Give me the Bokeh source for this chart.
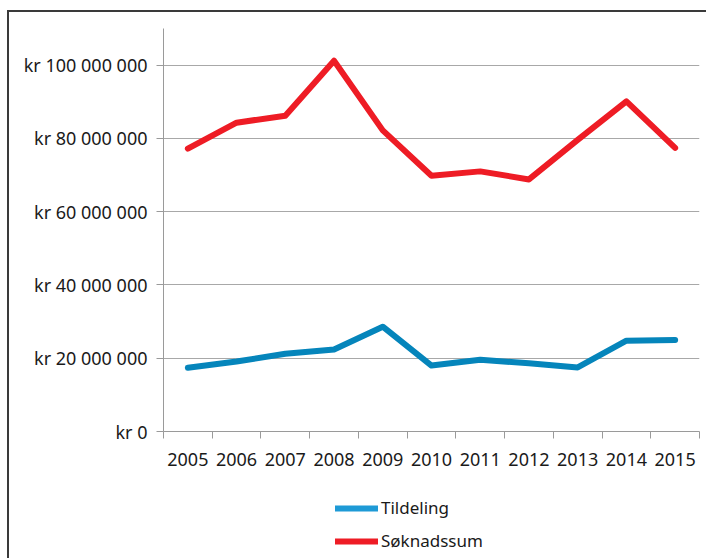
from bokeh.plotting import figure
from bokeh.models import (Range1d, FixedTicker, LinearAxis, Legend, LegendItem, Column)
from bokeh.embed import file_html
from bokeh.resources import INLINE

years = ["2005", "2006", "2007", "2008", "2009", "2010", "2011", "2012", "2013", "2014", "2015"]
tildeling = [17.4e6, 19.1e6, 21.2e6, 22.4e6, 28.6e6, 18.0e6, 19.6e6, 18.6e6, 17.5e6, 24.8e6, 25.0e6]
soknadssum = [77.2e6, 84.3e6, 86.2e6, 101.2e6, 82.2e6, 69.8e6, 71.0e6, 68.8e6, 79.6e6, 90.1e6, 77.4e6]
y_ticks = [0, 20e6, 40e6, 60e6, 80e6, 100e6]
y_tick_labels = ["kr 0", "kr 20 000 000", "kr 40 000 000", "kr 60 000 000", "kr 80 000 000", "kr 100 000 000"]
series_names = ["Tildeling", "Søknadssum"]
colors = ["#0585bb", "#ee1c25"]
legend_colors = ["#1e9ad6", "#ee1c25"]

FONT = "Noto Sans"
TXT = "#1a1a1a"
AX = "#9a9a9a"

n = len(years)
xc = [i + 0.5 for i in range(n)]

W = 697
H_MAIN = 474
H_LEG = 72

p = figure(width=W, height=H_MAIN, output_backend="svg", toolbar_location=None,
           x_range=Range1d(0, n), y_range=Range1d(0, 110e6),
           min_border_left=154, min_border_right=7, min_border_top=16, min_border_bottom=55,
           x_axis_location=None, y_axis_location=None)
p.outline_line_color = None
p.background_fill_color = "white"
p.border_fill_color = "white"

# y axis
yax = LinearAxis(ticker=FixedTicker(ticks=y_ticks))
yax.major_label_overrides = {t: l for t, l in zip(y_ticks, y_tick_labels)}
yax.axis_line_color = AX
yax.major_tick_line_color = AX
yax.major_tick_out = 7
yax.major_tick_in = 0
yax.minor_tick_line_color = None
yax.major_label_standoff = 9
yax.major_label_text_font = FONT
yax.major_label_text_font_size = "18px"
yax.major_label_text_color = TXT
p.add_layout(yax, "left")

# x axis: labels at category centres, small ticks at category boundaries
xax = LinearAxis(ticker=FixedTicker(ticks=xc, minor_ticks=list(range(n + 1))))
xax.major_label_overrides = {c: y for c, y in zip(xc, years)}
xax.axis_line_color = AX
xax.major_tick_line_color = None
xax.major_tick_out = 0
xax.major_tick_in = 0
xax.minor_tick_line_color = AX
xax.minor_tick_out = 7
xax.minor_tick_in = 0
xax.major_label_standoff = 14
xax.major_label_text_font = FONT
xax.major_label_text_font_size = "18px"
xax.major_label_text_color = TXT
p.add_layout(xax, "below")

p.xgrid.visible = False
p.ygrid.ticker = FixedTicker(ticks=y_ticks)
p.ygrid.grid_line_color = "#a8a8a8"
p.ygrid.grid_line_width = 1

p.line(xc, tildeling, line_color=colors[0], line_width=6, line_cap="round", line_join="round")
p.line(xc, soknadssum, line_color=colors[1], line_width=6, line_cap="round", line_join="round")

# legend figure (series drawn out of view; only the legend is visible)
q = figure(width=W, height=H_LEG, output_backend="svg", toolbar_location=None,
           x_range=Range1d(0, 1), y_range=Range1d(0, 1),
           min_border=0, x_axis_location=None, y_axis_location=None)
q.outline_line_color = None
q.xgrid.visible = False
q.ygrid.visible = False
q.border_fill_color = "white"
lr1 = q.line(xc, tildeling, line_color=legend_colors[0], line_width=6, line_cap="round")
lr2 = q.line(xc, soknadssum, line_color=legend_colors[1], line_width=6, line_cap="round")

legend = Legend(items=[LegendItem(label=series_names[0], renderers=[lr1]),
                       LegendItem(label=series_names[1], renderers=[lr2])],
                location=(172, 6), orientation="vertical")
legend.border_line_color = None
legend.background_fill_alpha = 0
legend.padding = 0
legend.margin = 0
legend.glyph_width = 43
legend.glyph_height = 20
legend.label_height = 20
legend.spacing = 10
legend.label_standoff = 3
legend.label_text_font = FONT
legend.label_text_font_size = "17px"
legend.label_text_color = TXT
q.add_layout(legend, "center")

layout = Column(children=[p, q], spacing=0, margin=(10, 0, 0, 7),
                styles={"border-left": "2px solid #3a3a3a", "border-top": "2px solid #3a3a3a",
                        "background-color": "white"})

open("out.html", "w").write(file_html(layout, INLINE))
